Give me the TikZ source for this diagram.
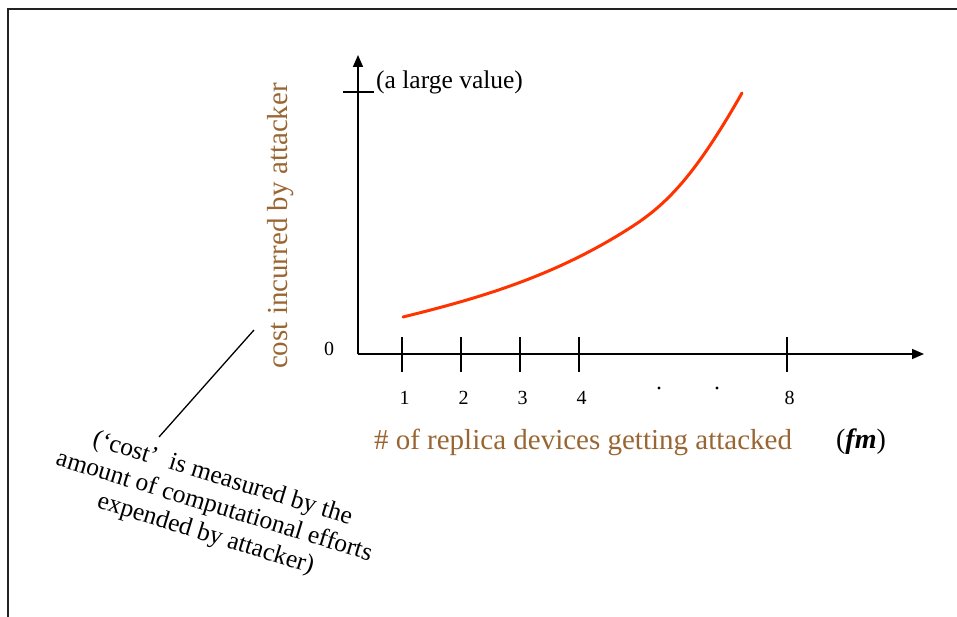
\documentclass[tikz,border=0pt]{standalone}
\usepackage{fontspec}
\setmainfont{Liberation Serif}
\usetikzlibrary{arrows.meta}
\definecolor{axisbrown}{RGB}{153,102,51}
\definecolor{curvered}{RGB}{255,51,0}
\definecolor{framegray}{RGB}{34,34,34}

\begin{document}
\begin{tikzpicture}[x=1pt,y=-1pt,
  axisline/.style={line width=1.6pt, -{Triangle[length=12pt,width=10pt]}},
  tickline/.style={line width=1.4pt},
  ticklabel/.style={font=\fontsize{20}{24}\selectfont, inner sep=0pt},
  brownlabel/.style={text=axisbrown, font=\fontsize{29}{34}\selectfont, inner sep=0pt},
  notetext/.style={font=\fontsize{25.5}{29}\selectfont, align=center, inner sep=0pt, rotate=-17},
  costcurve/.style={curvered, line width=3pt, line cap=round}
]
\useasboundingbox (0,0) rectangle (957,617);

% frame
\draw[framegray, line width=1.8pt] (8,617) -- (8,9) -- (957,9);

% axes
\coordinate (O) at (358,354);
\coordinate (ytip) at (358,55);
\coordinate (xtip) at (924,354);
\draw[axisline] (O) -- (ytip);
\draw[axisline] (O) -- (xtip);

% y tick for the large value
\coordinate (ytl) at (343,92);
\coordinate (ytr) at (374,92);
\draw[tickline] (ytl) -- (ytr);
\node[anchor=west, font=\fontsize{25.5}{29}\selectfont, inner sep=0pt] (large) at (376,82) {(a large value)};
\node[ticklabel] (zero) at (329,349) {0};

% x ticks
\foreach \xx/\lab in {402/1, 461/2, 520/3, 579/4, 787/8}{
  \coordinate (t\lab a) at (\xx,337);
  \coordinate (t\lab b) at (\xx,372);
  \draw[tickline] (t\lab a) -- (t\lab b);
  \node[ticklabel] (l\lab) at (\xx+2.5,398) {\lab};
}
\fill (659,388) circle (1.7pt);
\fill (717,388) circle (1.7pt);

% axis labels
\node[brownlabel] (xlabel) at (583,442) {\# of replica devices getting attacked};
\node[font=\fontsize{28}{34}\selectfont, inner sep=0pt] (fm) at (861,442) {(\textbf{\textit{fm}})};
\node[brownlabel, rotate=90] (ylabel) at (281,226) {cost incurred by attacker};

% cost curve: two cubic pieces, rising ever more steeply
\coordinate (c0) at (403,317);
\coordinate (c1) at (633,226);
\coordinate (c2) at (742,93);
\draw[costcurve] (c0) .. controls (480,298) and (556,276) .. (c1)
                      .. controls (669,202.6) and (697,172) .. (c2);

% annotation
\coordinate (pa) at (254,330);
\coordinate (pb) at (159,437);
\draw[line width=1.3pt] (pa) -- (pb);
\node[notetext] (note) at (214,507) {(‘cost’\ \ is measured by the\\amount of computational efforts\\expended by attacker)};
\end{tikzpicture}
\end{document}
